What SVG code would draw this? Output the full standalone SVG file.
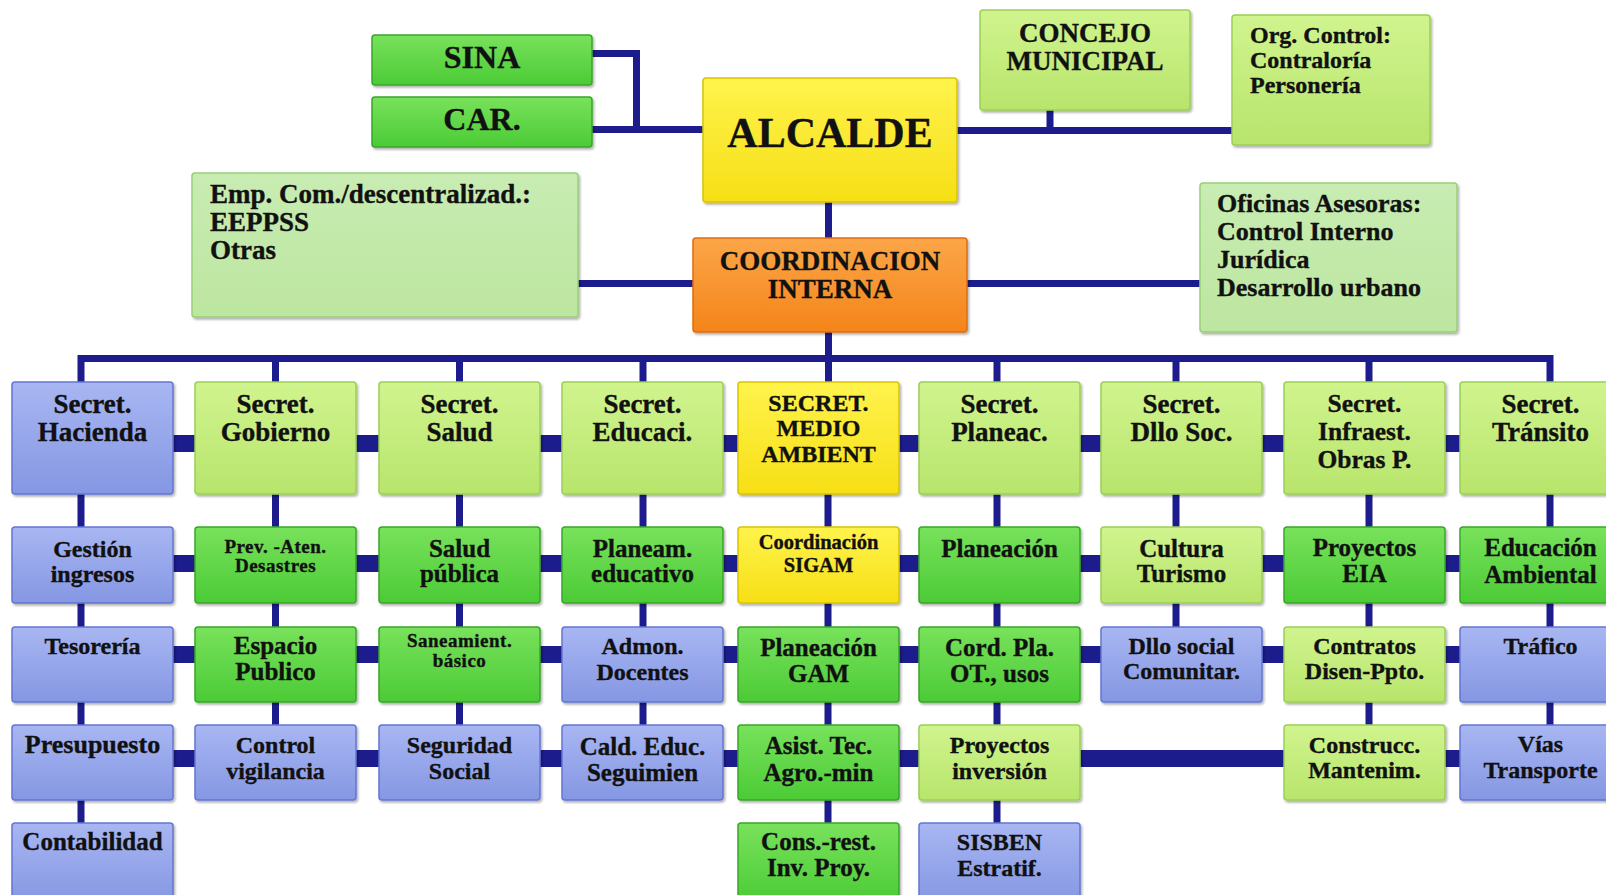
<svg xmlns="http://www.w3.org/2000/svg" width="1606" height="895" viewBox="0 0 1606 895">
<defs>
  <linearGradient id="gBlue" x1="0" y1="0" x2="0" y2="1"><stop offset="0" stop-color="#a8b6f2"/><stop offset="1" stop-color="#8597e3"/></linearGradient>
  <linearGradient id="gLight" x1="0" y1="0" x2="0" y2="1"><stop offset="0" stop-color="#d0f48e"/><stop offset="1" stop-color="#b8e56c"/></linearGradient>
  <linearGradient id="gGreen" x1="0" y1="0" x2="0" y2="1"><stop offset="0" stop-color="#78e25c"/><stop offset="1" stop-color="#4ccb36"/></linearGradient>
  <linearGradient id="gPale" x1="0" y1="0" x2="0" y2="1"><stop offset="0" stop-color="#c8ecb2"/><stop offset="1" stop-color="#bde6a0"/></linearGradient>
  <linearGradient id="gYellow" x1="0" y1="0" x2="0" y2="1"><stop offset="0" stop-color="#fff34c"/><stop offset="1" stop-color="#f6df16"/></linearGradient>
  <linearGradient id="gOrange" x1="0" y1="0" x2="0" y2="1"><stop offset="0" stop-color="#fca648"/><stop offset="1" stop-color="#f4841a"/></linearGradient>
  <filter id="shadow" x="-5%" y="-5%" width="115%" height="120%">
    <feDropShadow dx="1.5" dy="2" stdDeviation="1.2" flood-color="#000" flood-opacity="0.3"/>
  </filter>
</defs>
<style>
  text{font-family:"Liberation Serif","Times New Roman",serif;fill:#111;stroke:#111;stroke-width:0.35px;text-anchor:middle;font-weight:bold}
  .l{text-anchor:start}
  .t0{font-size:27px}
  .tb{font-size:25px}
  .tm{font-size:24px}
  .ts{font-size:19px;letter-spacing:0.5px}
  .tc{font-size:20.5px}
  rect.box{stroke-width:1.5;filter:url(#shadow)}
  .blue rect{fill:url(#gBlue);stroke:#6476d2}
  .light rect{fill:url(#gLight);stroke:#9ccf55}
  .green rect{fill:url(#gGreen);stroke:#38a628}
  .pale rect{fill:url(#gPale);stroke:#98cf78}
  .yellow rect{fill:url(#gYellow);stroke:#d9c300}
  .orange rect{fill:url(#gOrange);stroke:#de6c12}
  #connectors path{fill:none;stroke:#1c1c8c}
  .w{stroke-width:7px}
  .k{stroke-width:17px}
</style>

<!-- connectors -->
<g id="connectors">
  <!-- upper structure -->
  <path class="w" d="M592 53.5H636.5V129.5M592 129.5H703"/>
  <path class="w" d="M957 130.5H1232M1050 75V130"/>
  <path class="w" d="M828.5 202V238M828.5 332V382"/>
  <path class="w" d="M578 283.5H693M967 283.5H1200"/>
  <!-- main bus and drops to the secretariats -->
  <path class="w" d="M81 358.5H1550M81 355V382M275.5 355V382M459.5 355V382M643 355V382M997 355V382M1176 355V382M1369 355V382M1550 355V382"/>
  <!-- vertical links inside each column -->
  <path class="w" d="M81 494V527M81 603V627M81 702V725M81 800V823"/>
  <path class="w" d="M275.5 494V527M275.5 603V627M275.5 702V725"/>
  <path class="w" d="M459.5 494V527M459.5 603V627M459.5 702V725"/>
  <path class="w" d="M643 494V527M643 603V627M643 702V725"/>
  <path class="w" d="M828 494V527M828 603V627M828 702V725M828 800V823"/>
  <path class="w" d="M997 494V527M997 603V627M997 702V725M997 800V823"/>
  <path class="w" d="M1176 494V527M1176 603V627"/>
  <path class="w" d="M1369 494V527M1369 603V627M1369 702V725"/>
  <path class="w" d="M1550 494V527M1550 603V627M1550 702V725"/>
  <!-- horizontal links between neighbouring boxes -->
  <path class="k" d="M173 443.5H195M356 443.5H379M540 443.5H562M723 443.5H738M899 443.5H919M1080 443.5H1101M1262 443.5H1284M1445 443.5H1460"/>
  <path class="k" d="M173 563.5H195M356 563.5H379M540 563.5H562M723 563.5H738M899 563.5H919M1080 563.5H1101M1262 563.5H1284M1445 563.5H1460"/>
  <path class="k" d="M173 654.5H195M356 654.5H379M540 654.5H562M723 654.5H738M899 654.5H919M1080 654.5H1101M1262 654.5H1284M1445 654.5H1460"/>
  <path class="k" d="M173 758.5H195M356 758.5H379M540 758.5H562M723 758.5H738M899 758.5H919M1080 758.5H1284M1445 758.5H1460"/>
</g>

<!-- top level -->
<g id="n-sina" class="green"><rect class="box" x="372" y="35" width="220" height="50" rx="3"/><text x="482" y="68" style="font-size:32px">SINA</text></g>
<g id="n-car" class="green"><rect class="box" x="372" y="97" width="220" height="50" rx="3"/><text x="482" y="130" style="font-size:32px">CAR.</text></g>
<g id="n-alcalde" class="yellow"><rect class="box" x="703" y="78" width="254" height="124" rx="3"/><text x="830" y="147" style="font-size:42px">ALCALDE</text></g>
<g id="n-concejo" class="light"><rect class="box" x="980" y="10" width="210" height="100" rx="3"/><text x="1085" y="42" style="font-size:27px"><tspan x="1085">CONCEJO</tspan><tspan x="1085" y="70">MUNICIPAL</tspan></text></g>
<g id="n-control" class="light"><rect class="box" x="1232" y="15" width="198" height="130" rx="3"/><text class="l" x="1250" y="43" style="font-size:24px"><tspan x="1250">Org. Control:</tspan><tspan x="1250" y="68">Contraloría</tspan><tspan x="1250" y="93">Personería</tspan></text></g>
<g id="n-empresas" class="pale"><rect class="box" x="192" y="173" width="386" height="144" rx="3"/><text class="l" x="210" y="203" style="font-size:27px"><tspan x="210">Emp. Com./descentralizad.:</tspan><tspan x="210" y="231">EEPPSS</tspan><tspan x="210" y="259">Otras</tspan></text></g>
<g id="n-coordinacion" class="orange"><rect class="box" x="693" y="238" width="274" height="94" rx="3"/><text x="830" y="270" style="font-size:27px"><tspan x="830">COORDINACION</tspan><tspan x="830" y="298">INTERNA</tspan></text></g>
<g id="n-asesoras" class="pale"><rect class="box" x="1200" y="183" width="257" height="149" rx="3"/><text class="l" x="1217" y="212" style="font-size:26px"><tspan x="1217">Oficinas Asesoras:</tspan><tspan x="1217" y="240">Control Interno</tspan><tspan x="1217" y="268">Jurídica</tspan><tspan x="1217" y="296">Desarrollo urbano</tspan></text></g>

<!-- column 1: Hacienda -->
<g id="n-hacienda" class="blue"><rect class="box" x="12" y="382" width="161" height="112" rx="3"/><text class="t0" x="92.5" y="413"><tspan x="92.5">Secret.</tspan><tspan x="92.5" y="441">Hacienda</tspan></text></g>
<g id="n-gestion" class="blue"><rect class="box" x="12" y="527" width="161" height="76" rx="3"/><text class="tm" x="92.5" y="557"><tspan x="92.5">Gestión</tspan><tspan x="92.5" y="582">ingresos</tspan></text></g>
<g id="n-tesoreria" class="blue"><rect class="box" x="12" y="627" width="161" height="75" rx="3"/><text class="tm" x="92.5" y="654">Tesorería</text></g>
<g id="n-presupuesto" class="blue"><rect class="box" x="12" y="725" width="161" height="75" rx="3"/><text x="92.5" y="753" style="font-size:26px">Presupuesto</text></g>
<g id="n-contabilidad" class="blue"><rect class="box" x="12" y="823" width="161" height="80" rx="3"/><text class="tb" x="92.5" y="850">Contabilidad</text></g>

<!-- column 2: Gobierno -->
<g id="n-gobierno" class="light"><rect class="box" x="195" y="382" width="161" height="112" rx="3"/><text class="t0" x="275.5" y="413"><tspan x="275.5">Secret.</tspan><tspan x="275.5" y="441">Gobierno</tspan></text></g>
<g id="n-desastres" class="green"><rect class="box" x="195" y="527" width="161" height="76" rx="3"/><text class="ts" x="275.5" y="553"><tspan x="275.5">Prev. -Aten.</tspan><tspan x="275.5" y="572">Desastres</tspan></text></g>
<g id="n-espacio" class="green"><rect class="box" x="195" y="627" width="161" height="75" rx="3"/><text class="tb" x="275.5" y="654"><tspan x="275.5">Espacio</tspan><tspan x="275.5" y="680">Publico</tspan></text></g>
<g id="n-control-vig" class="blue"><rect class="box" x="195" y="725" width="161" height="75" rx="3"/><text class="tm" x="275.5" y="753"><tspan x="275.5">Control</tspan><tspan x="275.5" y="779">vigilancia</tspan></text></g>

<!-- column 3: Salud -->
<g id="n-salud" class="light"><rect class="box" x="379" y="382" width="161" height="112" rx="3"/><text class="t0" x="459.5" y="413"><tspan x="459.5">Secret.</tspan><tspan x="459.5" y="441">Salud</tspan></text></g>
<g id="n-salud-publica" class="green"><rect class="box" x="379" y="527" width="161" height="76" rx="3"/><text class="tb" x="459.5" y="557"><tspan x="459.5">Salud</tspan><tspan x="459.5" y="582">pública</tspan></text></g>
<g id="n-saneamiento" class="green"><rect class="box" x="379" y="627" width="161" height="75" rx="3"/><text class="ts" x="459.5" y="647"><tspan x="459.5">Saneamient.</tspan><tspan x="459.5" y="667">básico</tspan></text></g>
<g id="n-seguridad" class="blue"><rect class="box" x="379" y="725" width="161" height="75" rx="3"/><text class="tm" x="459.5" y="753"><tspan x="459.5">Seguridad</tspan><tspan x="459.5" y="779">Social</tspan></text></g>

<!-- column 4: Educacion -->
<g id="n-educacion" class="light"><rect class="box" x="562" y="382" width="161" height="112" rx="3"/><text class="t0" x="642.5" y="413"><tspan x="642.5">Secret.</tspan><tspan x="642.5" y="441">Educaci.</tspan></text></g>
<g id="n-planeam" class="green"><rect class="box" x="562" y="527" width="161" height="76" rx="3"/><text class="tb" x="642.5" y="557"><tspan x="642.5">Planeam.</tspan><tspan x="642.5" y="582">educativo</tspan></text></g>
<g id="n-admon" class="blue"><rect class="box" x="562" y="627" width="161" height="75" rx="3"/><text class="tm" x="642.5" y="654"><tspan x="642.5">Admon.</tspan><tspan x="642.5" y="680">Docentes</tspan></text></g>
<g id="n-calidad" class="blue"><rect class="box" x="562" y="725" width="161" height="75" rx="3"/><text class="tb" x="642.5" y="755"><tspan x="642.5">Cald. Educ.</tspan><tspan x="642.5" y="781">Seguimien</tspan></text></g>

<!-- column 5: Medio Ambiente -->
<g id="n-medio" class="yellow"><rect class="box" x="738" y="382" width="161" height="112" rx="3"/><text x="818.5" y="411" style="font-size:24px"><tspan x="818.5">SECRET.</tspan><tspan x="818.5" y="436">MEDIO</tspan><tspan x="818.5" y="462">AMBIENT</tspan></text></g>
<g id="n-sigam" class="yellow"><rect class="box" x="738" y="527" width="161" height="76" rx="3"/><text class="tc" x="818.5" y="549"><tspan x="818.5">Coordinación</tspan><tspan x="818.5" y="572">SIGAM</tspan></text></g>
<g id="n-gam" class="green"><rect class="box" x="738" y="627" width="161" height="75" rx="3"/><text class="tb" x="818.5" y="656"><tspan x="818.5">Planeación</tspan><tspan x="818.5" y="682">GAM</tspan></text></g>
<g id="n-asistencia" class="green"><rect class="box" x="738" y="725" width="161" height="75" rx="3"/><text class="tb" x="818.5" y="754"><tspan x="818.5">Asist. Tec.</tspan><tspan x="818.5" y="781">Agro.-min</tspan></text></g>
<g id="n-conservacion" class="green"><rect class="box" x="738" y="823" width="161" height="80" rx="3"/><text class="tb" x="818.5" y="850"><tspan x="818.5">Cons.-rest.</tspan><tspan x="818.5" y="876">Inv. Proy.</tspan></text></g>

<!-- column 6: Planeacion -->
<g id="n-planeac" class="light"><rect class="box" x="919" y="382" width="161" height="112" rx="3"/><text class="t0" x="999.5" y="413"><tspan x="999.5">Secret.</tspan><tspan x="999.5" y="441">Planeac.</tspan></text></g>
<g id="n-planeacion" class="green"><rect class="box" x="919" y="527" width="161" height="76" rx="3"/><text class="tb" x="999.5" y="557">Planeación</text></g>
<g id="n-ordenamiento" class="green"><rect class="box" x="919" y="627" width="161" height="75" rx="3"/><text class="tb" x="999.5" y="656"><tspan x="999.5">Cord. Pla.</tspan><tspan x="999.5" y="682">OT., usos</tspan></text></g>
<g id="n-inversion" class="light"><rect class="box" x="919" y="725" width="161" height="75" rx="3"/><text class="tm" x="999.5" y="753"><tspan x="999.5">Proyectos</tspan><tspan x="999.5" y="779">inversión</tspan></text></g>
<g id="n-sisben" class="blue"><rect class="box" x="919" y="823" width="161" height="80" rx="3"/><text class="tm" x="999.5" y="850"><tspan x="999.5">SISBEN</tspan><tspan x="999.5" y="876">Estratif.</tspan></text></g>

<!-- column 7: Desarrollo social -->
<g id="n-dllo-soc" class="light"><rect class="box" x="1101" y="382" width="161" height="112" rx="3"/><text class="t0" x="1181.5" y="413"><tspan x="1181.5">Secret.</tspan><tspan x="1181.5" y="441">Dllo Soc.</tspan></text></g>
<g id="n-cultura" class="light"><rect class="box" x="1101" y="527" width="161" height="76" rx="3"/><text class="tb" x="1181.5" y="557"><tspan x="1181.5">Cultura</tspan><tspan x="1181.5" y="582">Turismo</tspan></text></g>
<g id="n-comunitario" class="blue"><rect class="box" x="1101" y="627" width="161" height="75" rx="3"/><text class="tm" x="1181.5" y="654"><tspan x="1181.5">Dllo social</tspan><tspan x="1181.5" y="679">Comunitar.</tspan></text></g>

<!-- column 8: Infraestructura -->
<g id="n-infraest" class="light"><rect class="box" x="1284" y="382" width="161" height="112" rx="3"/><text x="1364.5" y="412" style="font-size:25.5px"><tspan x="1364.5">Secret.</tspan><tspan x="1364.5" y="440">Infraest.</tspan><tspan x="1364.5" y="468">Obras P.</tspan></text></g>
<g id="n-eia" class="green"><rect class="box" x="1284" y="527" width="161" height="76" rx="3"/><text class="tb" x="1364.5" y="556"><tspan x="1364.5">Proyectos</tspan><tspan x="1364.5" y="582">EIA</tspan></text></g>
<g id="n-contratos" class="light"><rect class="box" x="1284" y="627" width="161" height="75" rx="3"/><text class="tm" x="1364.5" y="654"><tspan x="1364.5">Contratos</tspan><tspan x="1364.5" y="679">Disen-Ppto.</tspan></text></g>
<g id="n-construccion" class="light"><rect class="box" x="1284" y="725" width="161" height="75" rx="3"/><text class="tm" x="1364.5" y="753"><tspan x="1364.5">Construcc.</tspan><tspan x="1364.5" y="778">Mantenim.</tspan></text></g>

<!-- column 9: Transito -->
<g id="n-transito" class="light"><rect class="box" x="1460" y="382" width="161" height="112" rx="3"/><text class="t0" x="1540.5" y="413"><tspan x="1540.5">Secret.</tspan><tspan x="1540.5" y="441">Tránsito</tspan></text></g>
<g id="n-educ-amb" class="green"><rect class="box" x="1460" y="527" width="161" height="76" rx="3"/><text class="tb" x="1540.5" y="556"><tspan x="1540.5">Educación</tspan><tspan x="1540.5" y="583">Ambiental</tspan></text></g>
<g id="n-trafico" class="blue"><rect class="box" x="1460" y="627" width="161" height="75" rx="3"/><text class="tm" x="1540.5" y="654">Tráfico</text></g>
<g id="n-vias" class="blue"><rect class="box" x="1460" y="725" width="161" height="75" rx="3"/><text class="tm" x="1540.5" y="752"><tspan x="1540.5">Vías</tspan><tspan x="1540.5" y="778">Transporte</tspan></text></g>
</svg>
